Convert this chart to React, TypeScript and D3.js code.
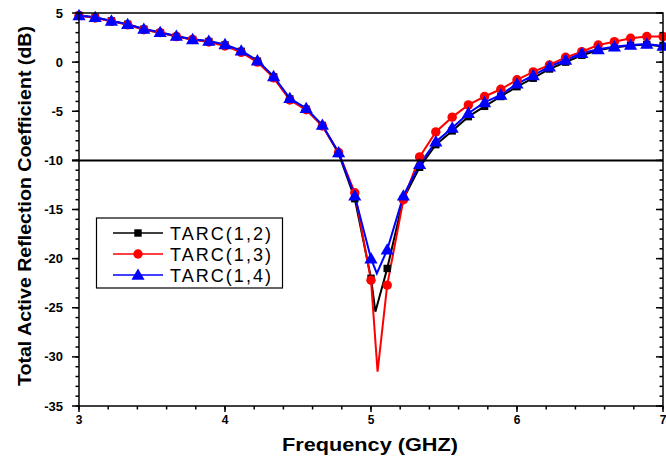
import React from "react";
import * as d3 from "d3";

const W = 666;
const H = 459;

const freq = [3.0, 3.111, 3.222, 3.333, 3.444, 3.556, 3.667, 3.778, 3.889, 4.0, 4.111, 4.222, 4.333, 4.444, 4.556, 4.667, 4.778, 4.889, 5.0, 5.111, 5.222, 5.333, 5.444, 5.556, 5.667, 5.778, 5.889, 6.0, 6.111, 6.222, 6.333, 6.444, 6.556, 6.667, 6.778, 6.889, 7.0];

const tarc12 = [4.75, 4.55, 4.2, 3.85, 3.35, 3.0, 2.6, 2.3, 2.1, 1.75, 1.1, 0.1, -1.5, -3.75, -4.8, -6.45, -9.3, -13.9, -22.0, -21.0, -13.9, -10.7, -8.4, -7.0, -5.55, -4.5, -3.5, -2.5, -1.64, -0.7, 0.0, 0.7, 1.2, 1.5, 1.7, 1.8, 1.6];
const tarc13 = [4.75, 4.5, 4.15, 3.8, 3.3, 3.0, 2.6, 2.3, 2.05, 1.65, 1.0, 0.0, -1.6, -3.85, -4.85, -6.5, -9.2, -13.3, -22.2, -22.7, -14.0, -9.65, -7.1, -5.6, -4.36, -3.5, -2.76, -1.8, -1.0, -0.29, 0.49, 1.06, 1.74, 2.08, 2.43, 2.6, 2.6];
const tarc14 = [4.75, 4.56, 4.19, 3.85, 3.37, 3.04, 2.66, 2.32, 2.15, 1.8, 1.16, 0.15, -1.45, -3.68, -4.7, -6.4, -9.2, -13.6, -20.0, -19.1, -13.6, -10.4, -8.1, -6.7, -5.2, -4.1, -3.34, -2.2, -1.35, -0.46, 0.22, 0.9, 1.3, 1.57, 1.74, 1.85, 1.64];

// extra resonance points (line only, no marker)
const dip12: [number, number][] = [[5.03, -25.4]];
const dip13: [number, number][] = [[5.045, -31.5]];
const dip14: [number, number][] = [[5.04, -21.5]];

const xTicks = [3, 4, 5, 6, 7];
const yTicks = [5, 0, -5, -10, -15, -20, -25, -30, -35];
const seriesNames = ["TARC(1,2)", "TARC(1,3)", "TARC(1,4)"];

const FONT = "Arial, 'Liberation Sans', sans-serif";

const series = [
  { name: seriesNames[0], values: tarc12, dip: dip12, color: "#000000", shape: d3.symbolSquare, size: 55 },
  { name: seriesNames[1], values: tarc13, dip: dip13, color: "#ff0000", shape: d3.symbolCircle, size: 70 },
  { name: seriesNames[2], values: tarc14, dip: dip14, color: "#0000ff", shape: d3.symbolTriangle, size: 75 },
];

export default function App() {
  const left = 79, right = 663, top = 13, bottom = 406;
  const x = d3.scaleLinear().domain([3, 7]).range([left, right]);
  const y = d3.scaleLinear().domain([-35, 5]).range([bottom, top]);

  const xMinor = d3.range(3, 7.0001, 0.2);
  const yMinor = d3.range(-35, 5.0001, 1);

  const line = d3
    .line<[number, number]>()
    .x((d) => x(d[0]))
    .y((d) => y(d[1]));

  return (
    <svg width={W} height={H} style={{ position: "absolute", left: 0, top: 0, background: "#fff" }}>
      <rect x={0} y={0} width={W} height={H} fill="#fff" />
      {/* series lines */}
      {series.map((s) => {
        const pts: [number, number][] = freq.map((f, i) => [f, s.values[i]] as [number, number]);
        const all = pts.concat(s.dip).sort((a, b) => a[0] - b[0]);
        return <path key={s.name} d={line(all) || ""} fill="none" stroke={s.color} strokeWidth={2} />;
      })}
      {/* markers */}
      {series.map((s) => (
        <g key={s.name + "m"} fill={s.color}>
          {freq.map((f, i) => (
            <path
              key={i}
              transform={`translate(${x(f)},${y(s.values[i]) + (s.shape === d3.symbolTriangle ? 1 : 0)})`}
              d={d3.symbol().type(s.shape).size(s.size)() || ""}
            />
          ))}
        </g>
      ))}
      {/* reference line at -10 dB */}
      <line x1={72} x2={right} y1={y(-10)} y2={y(-10)} stroke="#000" strokeWidth={2} />
      {/* frame */}
      <rect x={left} y={top} width={right - left} height={bottom - top} fill="none" stroke="#000" strokeWidth={1.5} />
      {/* x ticks */}
      {xMinor.map((v, i) => (
        <line key={"xm" + i} x1={x(v)} x2={x(v)} y1={bottom} y2={bottom + 3.5} stroke="#000" strokeWidth={1.5} />
      ))}
      {xTicks.map((v) => (
        <g key={"xt" + v}>
          <line x1={x(v)} x2={x(v)} y1={bottom} y2={bottom + 6} stroke="#000" strokeWidth={1.5} />
          <text x={x(v)} y={bottom + 18} textAnchor="middle" fontFamily={FONT} fontWeight="bold" fontSize={12}>
            {v}
          </text>
        </g>
      ))}
      {/* y ticks */}
      {yMinor.map((v, i) => (
        <g key={"ym" + i}>
          <line x1={left - 3.5} x2={left} y1={y(v)} y2={y(v)} stroke="#000" strokeWidth={1.5} />
          <line x1={right - 3.5} x2={right} y1={y(v)} y2={y(v)} stroke="#000" strokeWidth={1.5} />
        </g>
      ))}
      {yTicks.map((v) => (
        <g key={"yt" + v}>
          <line x1={left - 7} x2={left} y1={y(v)} y2={y(v)} stroke="#000" strokeWidth={1.5} />
          <line x1={right - 7} x2={right} y1={y(v)} y2={y(v)} stroke="#000" strokeWidth={1.5} />
          <text x={63} y={y(v) + 4.5} textAnchor="end" fontFamily={FONT} fontWeight="bold" fontSize={13}>
            {v}
          </text>
        </g>
      ))}
      {/* axis titles */}
      <text
        x={370}
        y={451}
        textAnchor="middle"
        fontFamily={FONT}
        fontWeight="bold"
        fontSize={18}
        textLength={176}
        lengthAdjust="spacingAndGlyphs"
      >
        Frequency (GHZ)
      </text>
      <text
        transform={`translate(31,206) rotate(-90)`}
        textAnchor="middle"
        fontFamily={FONT}
        fontWeight="bold"
        fontSize={18}
        textLength={360}
        lengthAdjust="spacingAndGlyphs"
      >
        Total Active Reflection Coefficient (dB)
      </text>
      {/* legend */}
      <rect x={96.5} y={218} width={186} height={70} fill="#fff" stroke="#000" strokeWidth={1.2} />
      {series.map((s, i) => {
        const ly = 233 + i * 21;
        return (
          <g key={"lg" + s.name}>
            <line x1={113} x2={163} y1={ly} y2={ly} stroke={s.color} strokeWidth={1.5} />
            <path
              transform={`translate(138,${ly + (s.shape === d3.symbolTriangle ? 1 : 0)})`}
              d={d3.symbol().type(s.shape).size(s.size)() || ""}
              fill={s.color}
            />
            <text x={170} y={ly + 6.5} fontFamily={FONT} fontSize={18} textLength={101} lengthAdjust="spacing">
              {s.name}
            </text>
          </g>
        );
      })}
    </svg>
  );
}
